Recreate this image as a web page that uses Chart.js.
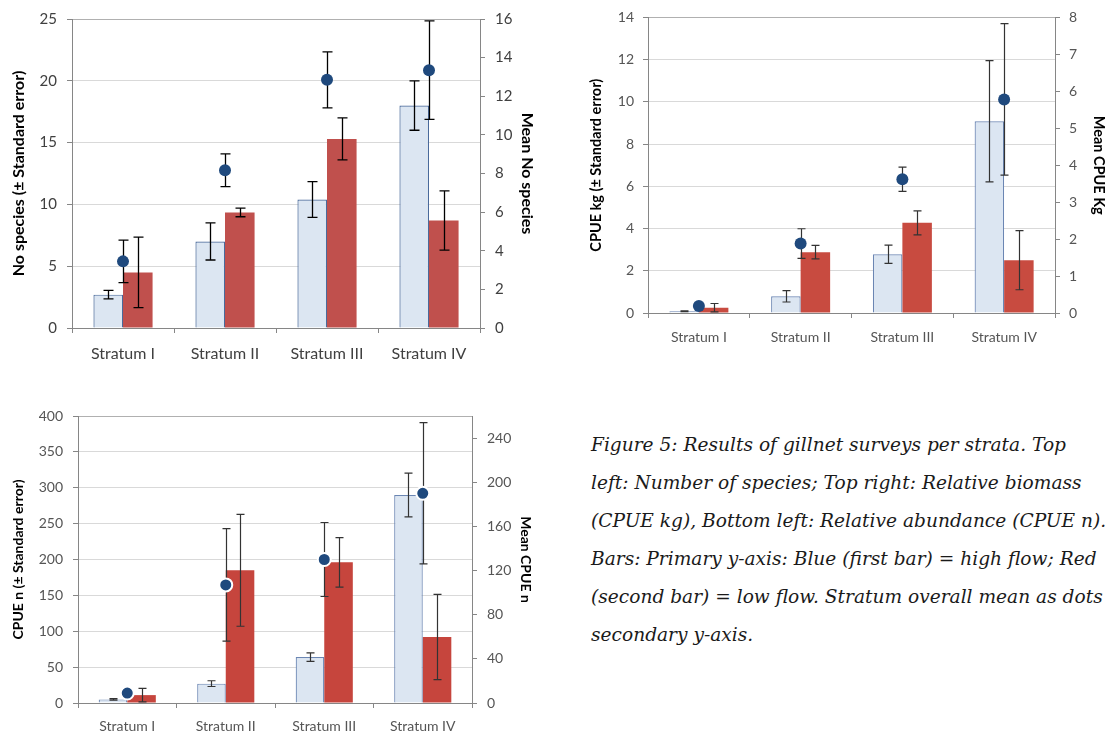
<!DOCTYPE html>
<html>
<head>
<meta charset="utf-8">
<script src="https://cdn.jsdelivr.net/npm/chart.js"></script>
<style>
  html, body { margin: 0; padding: 0; background: #fff; width: 1105px; height: 733px; overflow: hidden; position: relative; }
  .box { position: absolute; }
  .caption { position: absolute; left: 591px; top: 426px; font-family: "DejaVu Serif", serif; font-style: italic; font-size: 18.6px; line-height: 38px; color: #1a1a1a; white-space: nowrap; }
</style>
</head>
<body>
<div class="box" style="left:0;top:0;width:560px;height:370px"><canvas id="cSpecies"></canvas></div>
<div class="box" style="left:560px;top:0;width:560px;height:350px"><canvas id="cKg"></canvas></div>
<div class="box" style="left:0;top:395px;width:560px;height:338px"><canvas id="cN"></canvas></div>
<div class="caption">
  <div>Figure 5: Results of gillnet surveys per strata. Top</div>
  <div>left: Number of species; Top right: Relative biomass</div>
  <div>(CPUE kg), Bottom left: Relative abundance (CPUE n).</div>
  <div>Bars: Primary y-axis: Blue (first bar) = high flow; Red</div>
  <div>(second bar) = low flow. Stratum overall mean as dots on</div>
  <div>secondary y-axis.</div>
</div>
<script>
const strata = ['Stratum I', 'Stratum II', 'Stratum III', 'Stratum IV'];

// top left - number of species
const speciesHigh = [2.7, 7.0, 10.4, 18.0];
const speciesHighSE = [0.35, 1.5, 1.45, 2.0];
const speciesLow = [4.5, 9.35, 15.3, 8.7];
const speciesLowSE = [2.85, 0.35, 1.7, 2.4];
const speciesMean = [3.45, 8.17, 12.85, 13.35];
const speciesMeanSE = [1.1, 0.85, 1.45, 2.55];

// top right - CPUE kg
const kgHigh = [0.08, 0.79, 2.78, 9.08];
const kgHighSE = [0.02, 0.27, 0.43, 2.87];
const kgLow = [0.25, 2.88, 4.27, 2.5];
const kgLowSE = [0.2, 0.32, 0.57, 1.4];
const kgMean = [0.19, 1.88, 3.62, 5.78];
const kgMeanSE = [0.05, 0.4, 0.33, 2.05];

// bottom left - CPUE n
const nHigh = [5, 27, 64, 290];
const nHighSE = [1, 4, 6, 30.5];
const nLow = [11, 185, 196, 92];
const nLowSE = [9.3, 78, 34.5, 59.5];
const nMean = [9, 107, 130, 190];
const nMeanSE = [3, 51, 33.5, 64];

const axisCol = '#868686';

function drawErr(chart, i, opts) {
    const ds = chart.data.datasets[i];
    const meta = chart.getDatasetMeta(i);
    const sc = chart.scales[ds.yAxisID];
    const ctx = chart.ctx;
    ctx.save();
    ctx.strokeStyle = opts.color;
    ctx.lineWidth = opts.width;
    meta.data.forEach(function (el, k) {
        const v = ds.data[k], e = ds.err[k];
        const x = Math.round(el.x) + 0.5;
        const top = sc.getPixelForValue(v + e);
        const bot = sc.getPixelForValue(v - e);
        ctx.beginPath();
        ctx.moveTo(x, top); ctx.lineTo(x, bot);
        ctx.moveTo(x - opts.cap, top); ctx.lineTo(x + opts.cap, top);
        ctx.moveTo(x - opts.cap, bot); ctx.lineTo(x + opts.cap, bot);
        ctx.stroke();
    });
    ctx.restore();
}

const errorBars = {
    id: 'errorBars',
    beforeDatasetDraw(chart, args, opts) {
        if (chart.data.datasets[args.index].type === 'line') drawErr(chart, args.index, opts);
    },
    afterDatasetDraw(chart, args, opts) {
        if (chart.data.datasets[args.index].type !== 'line') drawErr(chart, args.index, opts);
    }
};

function buildChart(id, o) {
    const tickFont = { family: 'Lato', size: o.tickSize };
    const titleFont = { family: 'Lato', size: o.titleSize, weight: 'bold' };
    return new Chart(document.getElementById(id), {
        type: 'bar',
        plugins: [errorBars],
        data: {
            labels: strata,
            datasets: [
                { type: 'line', label: 'Mean', data: o.mean, err: o.meanSE, yAxisID: 'y1', showLine: false,
                  pointRadius: o.dotR, pointHoverRadius: o.dotR, pointBackgroundColor: '#1f497d',
                  pointBorderColor: o.dotEdge, pointBorderWidth: o.dotEdgeW, order: 0 },
                { label: 'High flow', data: o.high, err: o.highSE, yAxisID: 'y', backgroundColor: '#dce6f2',
                  borderColor: o.blueEdge, borderWidth: 1.2, order: 1 },
                { label: 'Low flow', data: o.low, err: o.lowSE, yAxisID: 'y', backgroundColor: o.red,
                  borderWidth: 0, order: 1 }
            ]
        },
        options: {
            responsive: true,
            maintainAspectRatio: false,
            animation: false,
            categoryPercentage: 0.58,
            barPercentage: 1,
            layout: { padding: { left: 0, right: 0, top: o.top, bottom: 0 } },
            plugins: {
                legend: { display: false },
                tooltip: { enabled: false },
                errorBars: { color: o.errCol, width: o.errW, cap: o.cap }
            },
            scales: {
                x: {
                    grid: { drawOnChartArea: false, color: axisCol, tickLength: 5, offset: true },
                    border: { color: axisCol },
                    ticks: { font: { family: 'Lato', size: o.catSize }, color: o.textCol, padding: o.xPad, maxRotation: 0 },
                    afterFit: function (s) { s.height = o.xH; }
                },
                y: {
                    position: 'left', min: 0, max: o.yMax,
                    ticks: { stepSize: o.yStep, font: tickFont, color: o.textCol, padding: o.yPad },
                    grid: {
                        color: function (c) { return c.tick.value === 0 ? axisCol : (c.tick.value === o.yMax ? '#b0b0b0' : '#d9d9d9'); },
                        tickColor: axisCol, tickLength: 5
                    },
                    border: { color: axisCol },
                    title: { display: true, text: o.yTitle, font: titleFont, color: '#000', padding: { top: o.yTitlePad, bottom: 0 } },
                    afterFit: function (s) { s.width = o.yW; }
                },
                y1: {
                    position: 'right', min: 0, max: o.y1Max,
                    ticks: { stepSize: o.y1Step, font: tickFont, color: o.textCol, padding: o.yPad },
                    afterBuildTicks: function (s) { s.ticks = s.ticks.filter(function (t) { return t.value % o.y1Step === 0; }); },
                    grid: { drawOnChartArea: false, color: axisCol, tickLength: 5 },
                    border: { color: axisCol },
                    title: { display: true, text: o.y1Title, font: titleFont, color: '#000', padding: { top: o.y1TitlePad, bottom: 0 } },
                    afterFit: function (s) { s.width = o.y1W; }
                }
            }
        }
    });
}

buildChart('cSpecies', {
    high: speciesHigh, highSE: speciesHighSE, low: speciesLow, lowSE: speciesLowSE, mean: speciesMean, meanSE: speciesMeanSE,
    yMax: 25, yStep: 5, y1Max: 16, y1Step: 2,
    yTitle: 'No species (± Standard error)', y1Title: 'Mean No species',
    top: 18, xH: 42, yW: 72, y1W: 80, yTitlePad: 9, y1TitlePad: 23, xPad: 11, yPad: 10,
    tickSize: 15, catSize: 16, titleSize: 16, textCol: '#404040',
    dotR: 6, dotEdge: '#1f497d', dotEdgeW: 0, blueEdge: '#4a6a9b', red: '#c0504d',
    errCol: '#000', errW: 1.3, cap: 5
});

buildChart('cKg', {
    high: kgHigh, highSE: kgHighSE, low: kgLow, lowSE: kgLowSE, mean: kgMean, meanSE: kgMeanSE,
    yMax: 14, yStep: 2, y1Max: 8, y1Step: 1,
    yTitle: 'CPUE kg (± Standard error)', y1Title: 'Mean CPUE Kg',
    top: 16, xH: 37, yW: 88, y1W: 65, yTitlePad: 28, y1TitlePad: 13, xPad: 11, yPad: 9,
    tickSize: 14, catSize: 14, titleSize: 14.5, textCol: '#555555',
    dotR: 6, dotEdge: '#1f497d', dotEdgeW: 0, blueEdge: '#6b86b3', red: '#c84b40',
    errCol: '#333', errW: 1.2, cap: 4
});

buildChart('cN', {
    high: nHigh, highSE: nHighSE, low: nLow, lowSE: nLowSE, mean: nMean, meanSE: nMeanSE,
    yMax: 400, yStep: 50, y1Max: 260, y1Step: 40,
    yTitle: 'CPUE n (± Standard error)', y1Title: 'Mean CPUE n',
    top: 21, xH: 30, yW: 78, y1W: 88, yTitlePad: 10, y1TitlePad: 26, xPad: 10, yPad: 10,
    tickSize: 14, catSize: 14, titleSize: 14, textCol: '#555555',
    dotR: 6.5, dotEdge: '#ffffff', dotEdgeW: 2, blueEdge: '#6b86b3', red: '#c6453d',
    errCol: '#333', errW: 1.2, cap: 4
});
</script>
</body>
</html>
